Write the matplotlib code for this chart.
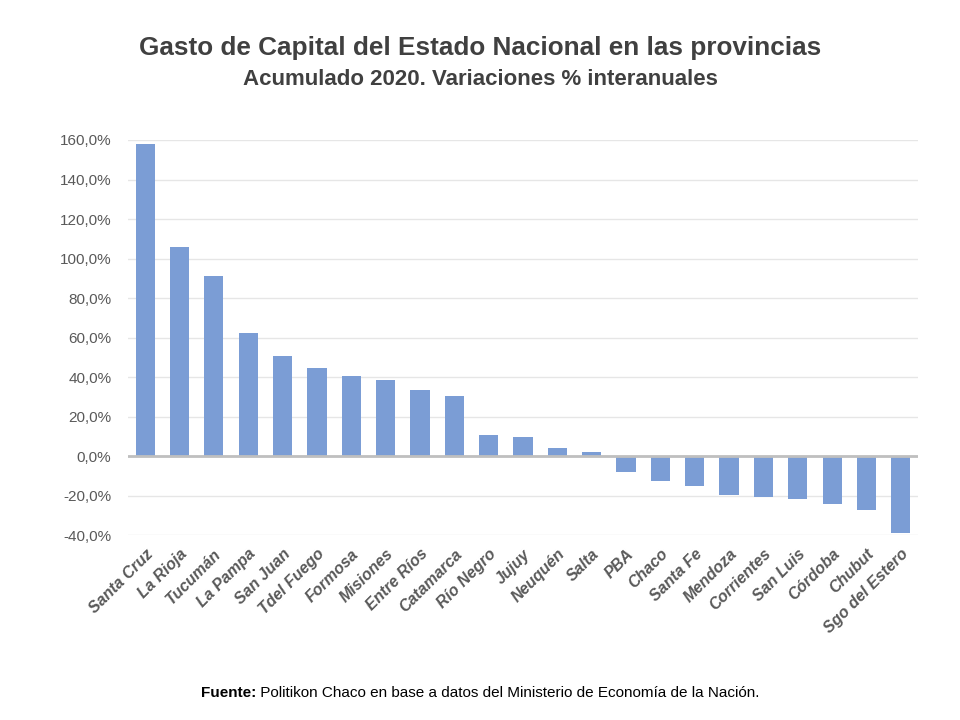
import matplotlib
matplotlib.use("Agg")
import matplotlib.pyplot as plt
from matplotlib.ticker import FuncFormatter

plt.rcParams["font.family"] = ["Liberation Sans", "DejaVu Sans"]

provincias = ["Santa Cruz", "La Rioja", "Tucumán", "La Pampa", "San Juan", "Tdel Fuego",
              "Formosa", "Misiones", "Entre Ríos", "Catamarca", "Río Negro", "Jujuy",
              "Neuquén", "Salta", "PBA", "Chaco", "Santa Fe", "Mendoza", "Corrientes",
              "San Luis", "Córdoba", "Chubut", "Sgo del Estero"]
variacion = [158.2, 106.1, 91.4, 62.6, 50.9, 44.8, 40.7, 38.8, 33.7, 30.6, 11.0, 9.5,
             4.4, 2.4, -7.8, -12.3, -14.8, -19.4, -20.4, -21.4, -24.0, -27.0, -38.7]

fig = plt.figure(figsize=(9.6, 7.2), dpi=100)
ax = fig.add_axes([0.1333, 0.2565, 0.823, 0.5491])

x = range(len(provincias))
ax.bar(x, variacion, width=0.56, color="#7B9DD5", zorder=3)
ax.set_xlim(-0.5, len(provincias) - 0.5)
ax.set_ylim(-40, 160)
ax.set_yticks(range(-40, 161, 20))
ax.yaxis.set_major_formatter(FuncFormatter(lambda v, p: f"{v:.1f}%".replace(".", ",")))
ax.grid(axis="y", color="#E6E6E6", linewidth=1, zorder=0)
ax.axhline(0, color="#BFBFBF", linewidth=2, zorder=4)
for s in ax.spines.values():
    s.set_visible(False)
ax.tick_params(axis="both", length=0, colors="#595959")
ax.tick_params(axis="y", labelsize=11, pad=12)
ax.set_xticks(list(x))
ax.set_xticklabels(provincias, rotation=45, ha="right", rotation_mode="anchor",
                   fontsize=11.5, fontweight="bold", fontstyle="italic", color="#595959")
ax.tick_params(axis="x", pad=8)

fig.text(0.5, 0.933, "Gasto de Capital del Estado Nacional en las provincias",
         ha="center", va="center", fontsize=18.8, fontweight="bold", color="#404040")
fig.text(0.5, 0.890, "Acumulado 2020. Variaciones % interanuales",
         ha="center", va="center", fontsize=16, fontweight="bold", color="#404040")

# footer: bold "Fuente:" followed by regular text, centered as a whole
fig.canvas.draw()
r = fig.canvas.get_renderer()
t1 = fig.text(0, 0.038, "Fuente:", fontsize=11, fontweight="bold", color="black", va="center")
t2 = fig.text(0, 0.038, " Politikon Chaco en base a datos del Ministerio de Economía de la Nación.",
              fontsize=11, color="black", va="center")
w1 = t1.get_window_extent(r).width / fig.bbox.width
w2 = t2.get_window_extent(r).width / fig.bbox.width
x0 = 0.5 - (w1 + w2) / 2
t1.set_x(x0)
t2.set_x(x0 + w1)

fig.savefig("out.png", dpi=100)
